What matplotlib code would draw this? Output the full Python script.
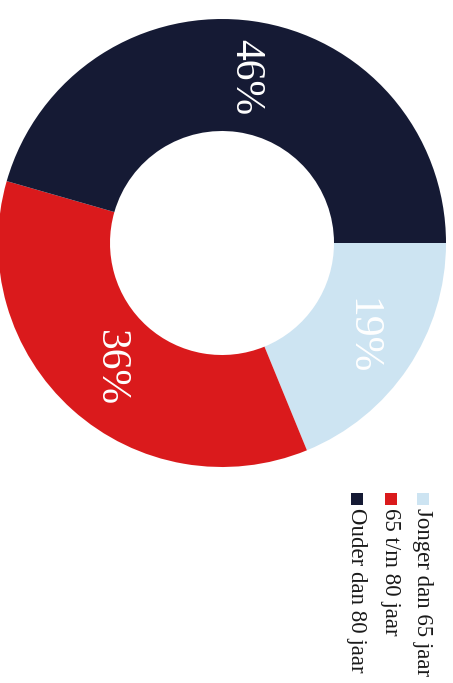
import numpy as np
import matplotlib
matplotlib.use("Agg")
import matplotlib.pyplot as plt
from matplotlib.patches import Rectangle

# age groups and their share (%)
categories = ["Jonger dan 65 jaar", "65 t/m 80 jaar", "Ouder dan 80 jaar"]
shares = [19, 36, 46]
colors = ["#cde4f2", "#da1a1c", "#151a34"]

plt.rcParams["font.family"] = ["Liberation Serif", "DejaVu Serif"]

W, H = 453, 683
fig = plt.figure(figsize=(W / 100, H / 100), dpi=100)
fig.patch.set_facecolor("white")

# donut, laid out sideways (page turned a quarter)
cx, cy, r = 222, 243, 224
ax = fig.add_axes([(cx - r) / W, (H - cy - r) / H, 2 * r / W, 2 * r / H])
wedges, _ = ax.pie(shares, colors=colors, startangle=0, counterclock=False,
                   radius=1.0, wedgeprops=dict(width=0.5, linewidth=0))
ax.set_xlim(-1, 1)
ax.set_ylim(-1, 1)
ax.set_aspect("equal")
ax.axis("off")

for w, val in zip(wedges, shares):
    mid = np.deg2rad((w.theta1 + w.theta2) / 2)
    ax.text(0.75 * np.cos(mid), 0.75 * np.sin(mid), f"{val}%",
            rotation=270, ha="center", va="center",
            fontsize=30, color="white")

# legend, also turned sideways
legend_x = [423, 391, 357]
for x, name, col in zip(legend_x, categories, colors):
    fig.patches.append(Rectangle(((x - 6) / W, (H - 505) / H), 12 / W, 12 / H,
                                 transform=fig.transFigure, facecolor=col,
                                 edgecolor="none"))
    fig.text(x / W, (H - 508) / H, name, rotation=270,
             ha="center", va="top", fontsize=16.5, color="#1a1a1a")

fig.savefig("out.png", dpi=100)
